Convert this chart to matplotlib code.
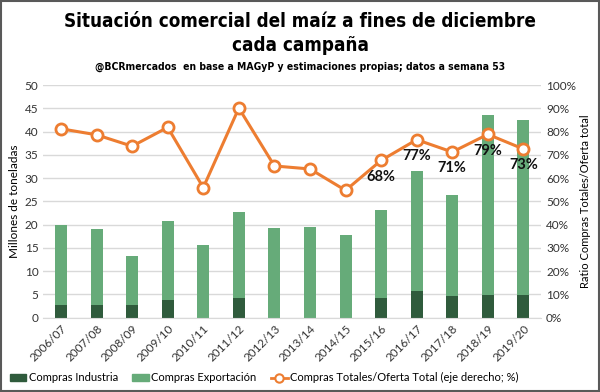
import matplotlib.pyplot as plt
import numpy as np
from matplotlib.patches import Rectangle
from matplotlib.lines import Line2D
from matplotlib.ticker import PercentFormatter

# Datos
campanias = ['2006/07', '2007/08', '2008/09', '2009/10', '2010/11', '2011/12', '2012/13',
             '2013/14', '2014/15', '2015/16', '2016/17', '2017/18', '2018/19', '2019/20']
industria = [2.7, 2.7, 2.7, 3.8, 0.0, 4.2, 0.0, 0.0, 0.0, 4.2, 5.7, 4.7, 4.8, 4.8]
exportacion = [17.1, 16.4, 10.6, 17.0, 15.5, 18.5, 19.2, 19.5, 17.8, 18.9, 25.8, 21.6, 38.7, 37.6]
ratio = [81.2, 78.6, 73.7, 81.8, 55.9, 90.1, 65.2, 63.9, 54.7, 67.6, 76.5, 71.2, 78.8, 72.5]
etiquetas = {9: '68%', 10: '77%', 11: '71%', 12: '79%', 13: '73%'}

c_ind = '#2F5B3C'
c_exp = '#66AB79'
c_lin = '#ED7D31'

plt.rcParams['font.family'] = ['Lato', 'DejaVu Sans']

fig = plt.figure(figsize=(6, 3.92), dpi=100)
ax = fig.add_axes([0.072, 0.19, 0.83, 0.593])
ax2 = ax.twinx()

x = np.arange(len(campanias))
ax.bar(x, industria, width=0.34, color=c_ind, zorder=2)
ax.bar(x, exportacion, width=0.34, bottom=industria, color=c_exp, zorder=2)

ax2.plot(x, ratio, color=c_lin, lw=2.2, marker='o', ms=8, mfc='white', mec=c_lin, mew=2, zorder=3)
for i, txt in etiquetas.items():
    ax2.text(x[i], ratio[i] - 4, txt, ha='center', va='top', fontsize=10.5, fontweight='bold', color='#111111')

ax.set_ylim(0, 50)
ax.set_yticks(range(0, 51, 5))
ax2.set_ylim(0, 100)
ax2.set_yticks(range(0, 101, 10))
ax2.yaxis.set_major_formatter(PercentFormatter(decimals=0))
ax.set_xlim(-0.5, len(campanias) - 0.5)
ax.set_xticks(x)
ax.set_xticklabels(campanias, rotation=45, ha='right', rotation_mode='anchor')

ax.grid(axis='y', color='#D9D9D9', lw=1, zorder=0)
ax.set_axisbelow(True)
for a in (ax, ax2):
    for s in a.spines.values():
        s.set_visible(False)
    a.tick_params(length=0, labelsize=8.5, colors='#333333')
ax.spines['bottom'].set_visible(True)
ax.spines['bottom'].set_color('#D9D9D9')
ax.tick_params(axis='x', pad=4)

ax.set_ylabel('Millones de toneladas', fontsize=8.5, labelpad=3)
ax2.set_ylabel('Ratio Compras Totales/Oferta total', fontsize=8, labelpad=3)

titfont = dict(family='DejaVu Sans', stretch='condensed', fontweight='bold', ha='center', va='center')
fig.text(0.5, 0.945, 'Situación comercial del maíz a fines de diciembre', fontsize=13.5, **titfont)
fig.text(0.5, 0.883, 'cada campaña', fontsize=13.5, **titfont)
fig.text(0.5, 0.830, '@BCRmercados  en base a MAGyP y estimaciones propias; datos a semana 53',
         fontsize=7.5, **titfont)

handles = [Rectangle((0, 0), 1, 1, color=c_ind),
           Rectangle((0, 0), 1, 1, color=c_exp),
           Line2D([], [], color=c_lin, lw=2, marker='o', ms=6, mfc='white', mec=c_lin, mew=1.5)]
fig.legend(handles, ['Compras Industria', 'Compras Exportación',
                     'Compras Totales/Oferta Total (eje derecho; %)'],
           loc='center', bbox_to_anchor=(0.44, 0.036), ncol=3, frameon=False, fontsize=8,
           handlelength=1.5, handletextpad=0.2, columnspacing=1.3)

fig.patches.append(Rectangle((0.001, 0.002), 0.997, 0.995, transform=fig.transFigure,
                             fill=False, edgecolor='#595959', lw=1.5))

fig.savefig('out.png', dpi=100)
